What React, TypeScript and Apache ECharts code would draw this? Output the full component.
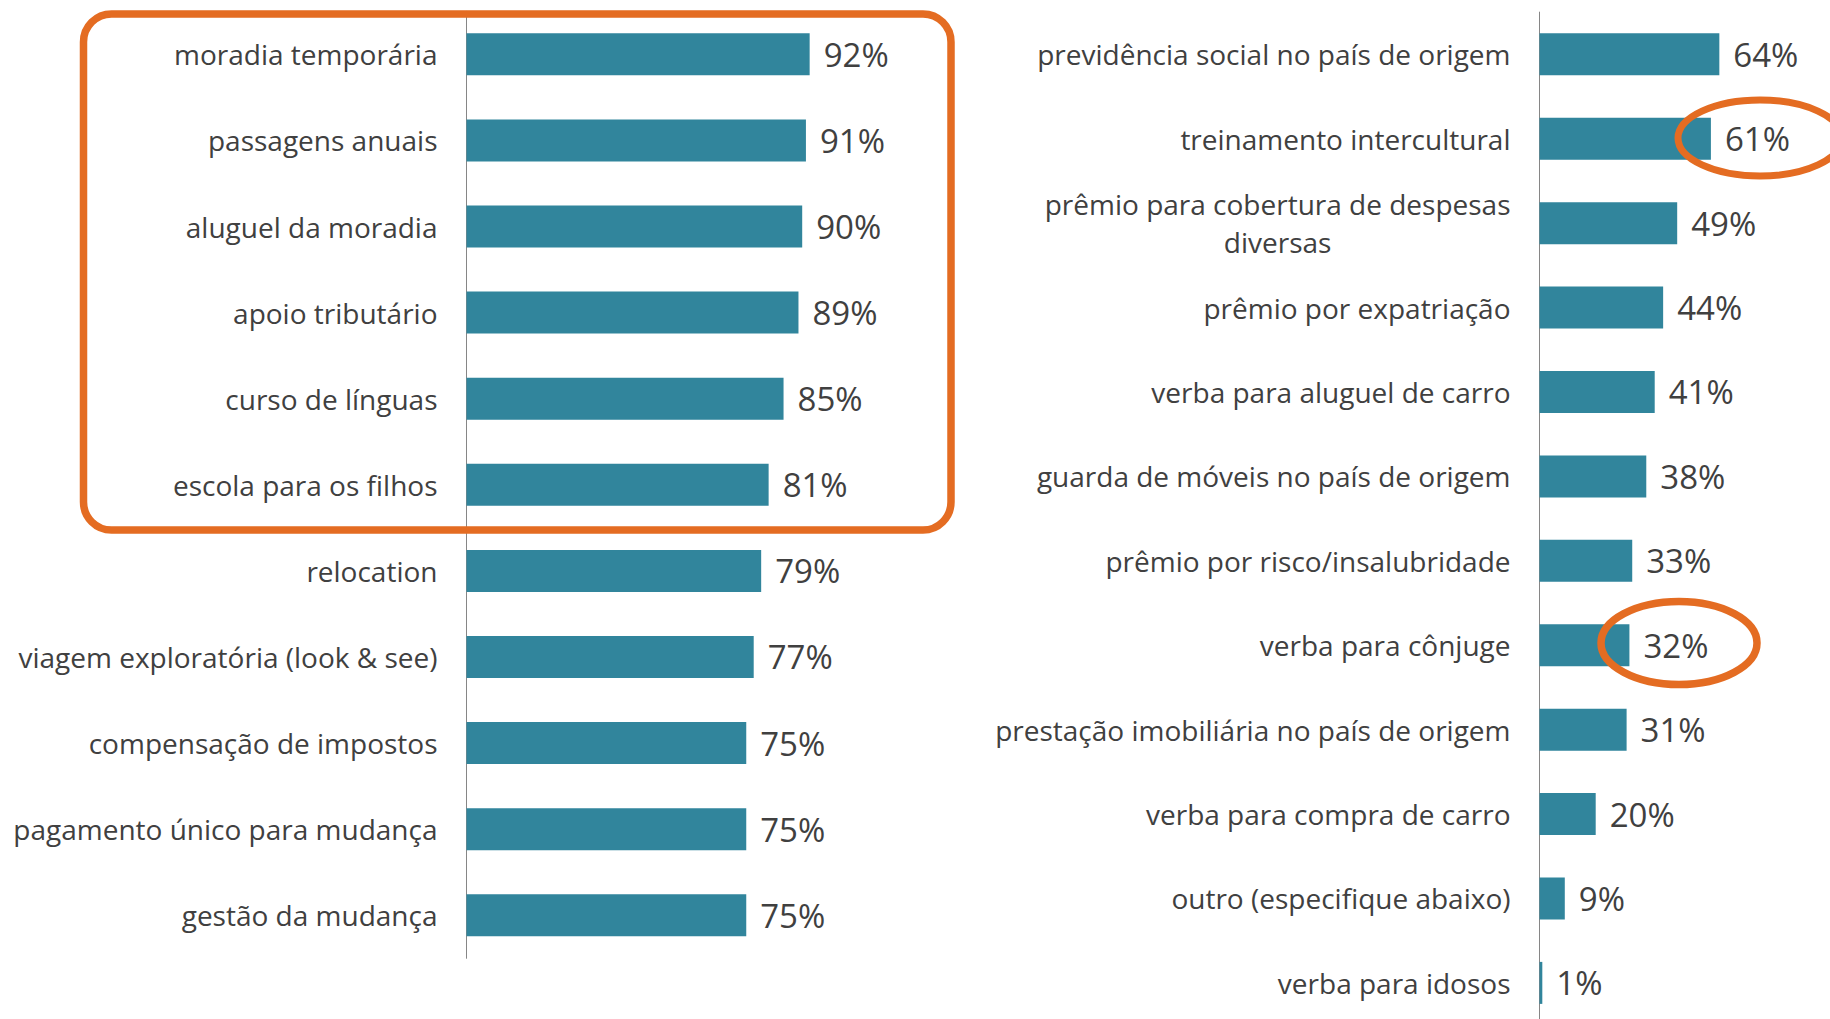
import React, { useEffect, useRef } from "react";
import * as echarts from "echarts";

const leftCategories = [
  "moradia temporária",
  "passagens anuais",
  "aluguel da moradia",
  "apoio tributário",
  "curso de línguas",
  "escola para os filhos",
  "relocation",
  "viagem exploratória (look & see)",
  "compensação de impostos",
  "pagamento único para mudança",
  "gestão da mudança",
];
const leftValues = [92, 91, 90, 89, 85, 81, 79, 77, 75, 75, 75];

const rightCategories = [
  "previdência social no país de origem",
  "treinamento intercultural",
  "prêmio para cobertura de despesas\ndiversas",
  "prêmio por expatriação",
  "verba para aluguel de carro",
  "guarda de móveis no país de origem",
  "prêmio por risco/insalubridade",
  "verba para cônjuge",
  "prestação imobiliária no país de origem",
  "verba para compra de carro",
  "outro (especifique abaixo)",
  "verba para idosos",
];
const rightValues = [64, 61, 49, 44, 41, 38, 33, 32, 31, 20, 9, 1];

const FONT = "'Open Sans', 'Noto Sans', sans-serif";
const TEXT = "#404040";
const BAR = "#31859C";
const ORANGE = "#E46C22";

function catLabelFormatter(v: string) {
  if (v.indexOf("\n") >= 0) {
    return v
      .split("\n")
      .map((s) => "{c|" + s + "}")
      .join("\n");
  }
  return v;
}

export default function App() {
  const ref = useRef<HTMLDivElement>(null);
  useEffect(() => {
    if (!ref.current) return;
    const chart = echarts.init(ref.current, undefined, { renderer: "svg" });
    const axisLabel = {
      interval: 0,
      margin: 29,
      color: TEXT,
      fontFamily: FONT,
      fontSize: 28,
      formatter: catLabelFormatter,
      rich: {
        c: {
          align: "center",
          color: TEXT,
          fontFamily: FONT,
          fontSize: 28,
          lineHeight: 38.5,
        },
      },
    };
    const yBase = {
      type: "category" as const,
      inverse: true,
      axisLine: { show: true, lineStyle: { color: "#868686", width: 1 } },
      axisTick: { show: false },
      splitLine: { show: false },
      axisLabel,
    };
    const xBase = {
      type: "value" as const,
      min: 0,
      max: 100,
      show: false,
    };
    const barLabel = {
      show: true,
      position: "right" as const,
      distance: 14,
      formatter: "{c}%",
      color: TEXT,
      fontFamily: FONT,
      fontSize: 33,
    };
    chart.setOption({
      animation: false,
      backgroundColor: "#ffffff",
      grid: [
        { left: 466.5, top: 11.3, width: 373, height: 947 },
        { left: 1539.5, top: 12.1, width: 281, height: 1013 },
      ],
      xAxis: [
        { ...xBase, gridIndex: 0 },
        { ...xBase, gridIndex: 1 },
      ],
      yAxis: [
        { ...yBase, gridIndex: 0, data: leftCategories },
        { ...yBase, gridIndex: 1, data: rightCategories },
      ],
      series: [
        {
          type: "bar",
          xAxisIndex: 0,
          yAxisIndex: 0,
          data: leftValues,
          barWidth: 42,
          itemStyle: { color: BAR },
          label: barLabel,
        },
        {
          type: "bar",
          xAxisIndex: 1,
          yAxisIndex: 1,
          data: rightValues,
          barWidth: 42,
          itemStyle: { color: BAR },
          label: barLabel,
        },
      ],
      graphic: [
        {
          type: "rect",
          z: 100,
          shape: { x: 83.5, y: 14, width: 867.5, height: 516, r: 28 },
          style: { fill: "none", stroke: ORANGE, lineWidth: 7.5 },
        },
        {
          type: "ellipse",
          z: 100,
          shape: { cx: 1760, cy: 138, rx: 82, ry: 38 },
          style: { fill: "none", stroke: ORANGE, lineWidth: 7 },
        },
        {
          type: "ellipse",
          z: 100,
          shape: { cx: 1679, cy: 643, rx: 78, ry: 41.5 },
          style: { fill: "none", stroke: ORANGE, lineWidth: 7.5 },
        },
      ],
    });
    return () => chart.dispose();
  }, []);
  return (
    <div
      style={{
        position: "fixed",
        left: 0,
        top: 0,
        width: 1830,
        height: 1019,
        overflow: "hidden",
        background: "#ffffff",
      }}
    >
      <div ref={ref} style={{ width: 1830, height: 1040 }} />
    </div>
  );
}
